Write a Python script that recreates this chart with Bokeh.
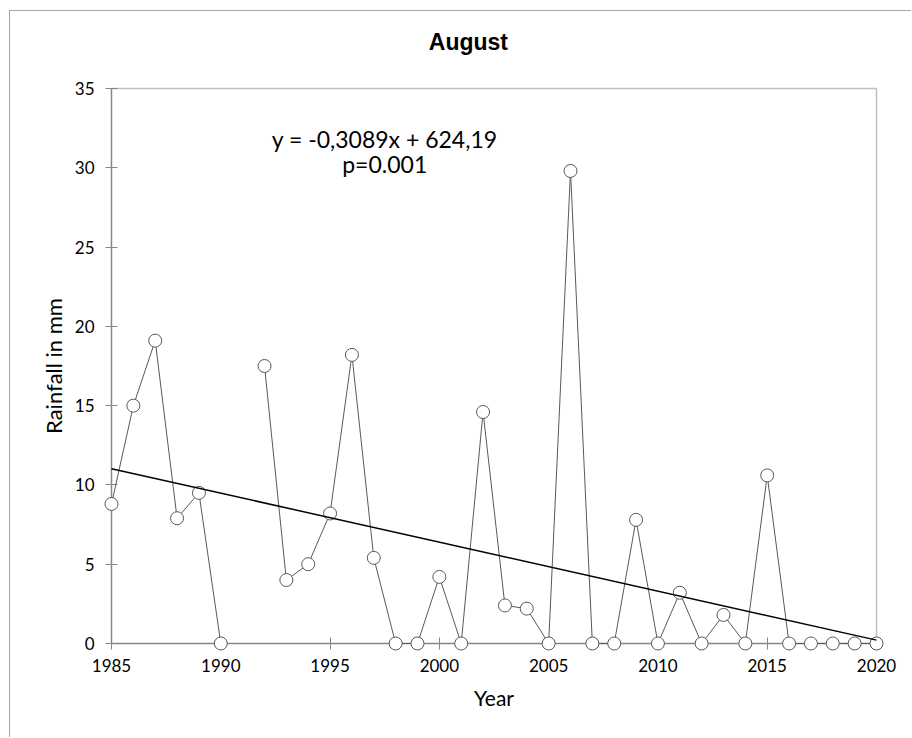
import numpy as np
from bokeh.plotting import figure
from bokeh.models import Range1d, FixedTicker, Label
from bokeh.embed import file_html
from bokeh.resources import INLINE

# August rainfall per year (mm); 1991 has no record
years = list(range(1985, 2021))
rainfall = [8.8, 15.0, 19.1, 7.9, 9.5, 0.0, np.nan, 17.5, 4.0, 5.0,
            8.2, 18.2, 5.4, 0.0, 0.0, 4.2, 0.0, 14.6, 2.4, 2.2,
            0.0, 29.8, 0.0, 0.0, 7.8, 0.0, 3.2, 0.0, 1.8, 0.0,
            10.6, 0.0, 0.0, 0.0, 0.0, 0.0]

# linear trend reported on the chart
slope = -0.3089
intercept = 624.19
trend_years = [1985, 2020]
trend_values = [slope * yr + intercept for yr in trend_years]

x_ticks = [1985, 1990, 1995, 2000, 2005, 2010, 2015, 2020]
y_ticks = [0, 5, 10, 15, 20, 25, 30, 35]

X_MIN, X_MAX = x_ticks[0], x_ticks[-1]
Y_MIN, Y_MAX = y_ticks[0], y_ticks[-1]

# Axes are pinned inside a frame that fills the whole figure, so the frame
# also holds tick labels, axis titles and the chart title, and edge markers
# are never clipped.
AX_W, AX_H = 765, 555                            # axis lengths in px
PAD_L, PAD_R, PAD_B, PAD_T = 101, 30, 95, 77     # frame room around the axes
px_x = (X_MAX - X_MIN) / AX_W
px_y = (Y_MAX - Y_MIN) / AX_H

FIG_W, FIG_H = 902, 727
p = figure(
    width=FIG_W, height=FIG_H,
    x_range=Range1d(X_MIN - PAD_L * px_x, X_MAX + PAD_R * px_x),
    y_range=Range1d(Y_MIN - PAD_B * px_y, Y_MAX + PAD_T * px_y),
    output_backend="svg", toolbar_location=None,
    min_border_left=0, min_border_bottom=0, min_border_top=0,
    min_border_right=FIG_W - PAD_L - AX_W - PAD_R,
)
p.styles = {
    "margin-left": "9px", "margin-top": "10px",
    "border-left": "1px solid #a6a6a6", "border-top": "1px solid #a6a6a6",
}
p.outline_line_color = None
p.grid.visible = False
p.background_fill_color = "white"
p.border_fill_color = "white"

AXIS_GRAY = "#868686"
for ax in (p.xaxis[0], p.yaxis[0]):
    ax.axis_line_color = AXIS_GRAY
    ax.axis_line_width = 1.5
    ax.major_tick_line_color = AXIS_GRAY
    ax.major_tick_line_width = 1
    ax.major_tick_in = 6
    ax.major_tick_out = 6
    ax.minor_tick_line_color = None
    ax.major_label_text_font = "Lato"
    ax.major_label_text_font_size = "17px"
    ax.major_label_text_color = "black"
    ax.axis_label_text_font = "Lato"
    ax.axis_label_text_font_size = "21px"
    ax.axis_label_text_font_style = "normal"
    ax.axis_label_text_color = "black"

p.yaxis.axis_label_text_font_size = "22px"
p.xaxis.ticker = FixedTicker(ticks=x_ticks)
p.yaxis.ticker = FixedTicker(ticks=y_ticks)
p.xaxis.bounds = (X_MIN, X_MAX)
p.yaxis.bounds = (Y_MIN, Y_MAX)
p.xaxis.fixed_location = Y_MIN
p.yaxis.fixed_location = X_MIN
p.xaxis.axis_label = "Year"
p.yaxis.axis_label = "Rainfall in mm"
p.xaxis.major_label_standoff = 9
p.yaxis.major_label_standoff = 11
p.xaxis.axis_label_standoff = 10
p.yaxis.axis_label_standoff = 5

# light frame on the top and right of the plotting area
FRAME_GRAY = "#bfbfbf"
p.line([X_MIN, X_MAX], [Y_MAX, Y_MAX], line_color=FRAME_GRAY, line_width=1.5)
p.line([X_MAX, X_MAX], [Y_MIN, Y_MAX], line_color=FRAME_GRAY, line_width=1.5)

# yearly series, drawn above the axis lines
p.line(years, rainfall, line_color="#595959", line_width=1, level="overlay")
p.scatter(years, rainfall, size=13, marker="circle", level="overlay",
          fill_color="white", line_color="#595959", line_width=1)

# trend line
p.line(trend_years, trend_values, line_color="black", line_width=1.5,
       level="overlay")

# chart title
p.add_layout(Label(x=2001.33, y=37.96, text="August", text_align="center",
                   text_baseline="alphabetic", text_font="Liberation Sans",
                   text_font_style="bold", text_font_size="23px",
                   text_color="black"))

eq_text = "y = -0,3089x + 624,19"
p_text = "p=0.001"
p.add_layout(Label(x=1997.5, y=31.82, text=eq_text, text_align="center",
                   text_baseline="alphabetic", text_font="Lato",
                   text_font_size="23px", text_color="black"))
p.add_layout(Label(x=1997.5, y=30.24, text=p_text, text_align="center",
                   text_baseline="alphabetic", text_font="Lato",
                   text_font_size="23px", text_color="black"))

open("out.html", "w").write(file_html(p, INLINE))
